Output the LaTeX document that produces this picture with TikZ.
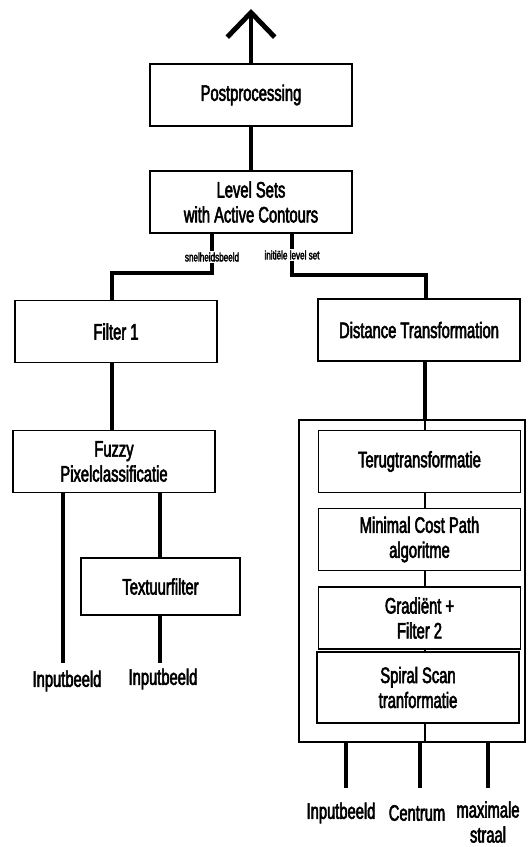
\documentclass[tikz,border=0pt]{standalone}
\usepackage{fontspec}
\setmainfont{Liberation Sans}[FakeStretch=0.66,FakeBold=2.5]
\usetikzlibrary{arrows.meta}

\begin{document}
\begin{tikzpicture}[x=0.02cm, y=-0.02cm,
    blok/.style={draw, line width=0.8pt, minimum width=4.04cm, minimum height=1.24cm,
      inner sep=0pt, align=center, font=\fontsize{12.7}{14.2}\selectfont},
    kader/.style={draw, line width=0.8pt, minimum width=4.52cm, minimum height=6.44cm, inner sep=0pt},
    dik/.style={line width=2.8pt},
    dun/.style={line width=0.8pt},
    invoer/.style={align=center, inner sep=1pt, font=\fontsize{12.7}{14.2}\selectfont},
    klein/.style={fill=white, inner sep=1pt, font=\fontsize{7}{8}\selectfont}]
  \useasboundingbox (0,0) rectangle (527,847);

  % Coordinates
  \coordinate (top) at (251,9);
  \coordinate (l1) at (212,273);
  \coordinate (l2) at (112,273);
  \coordinate (r1) at (292,275);
  \coordinate (r2) at (426,275);
  \coordinate (spine) at (425,420);
  \coordinate (s1) at (63,663);
  \coordinate (s2) at (160,663);
  \coordinate (b1) at (346,788);
  \coordinate (b2) at (420,788);
  \coordinate (b3) at (488,788);

  % Boxes
  \node[blok] (post) at (251,95) {Postprocessing};
  \node[blok] (level) at (251,202) {Level Sets\\with Active Contours};
  \node[blok] (filter1) at (116,331.5) {Filter 1};
  \node[blok] (dist) at (419,330) {Distance Transformation};
  \node[blok] (fuzzy) at (114,461.5) {Fuzzy\\Pixelclassificatie};
  \node[blok, minimum width=3.18cm, minimum height=1.14cm] (textuur) at (160.5,586.5) {Textuurfilter};
  \node[kader] (kader) at (412,581) {};
  \node[blok] (terug) at (419.5,461.5) {Terugtransformatie};
  \node[blok] (minimal) at (419.5,539.5) {Minimal Cost Path\\algoritme};
  \node[blok] (grad) at (419.5,618) {Gradiënt +\\Filter 2};
  \node[blok, minimum height=1.42cm] (spiral) at (418,687.5) {Spiral Scan\\tranformatie};

  % Inputs
  \node[invoer] (in1) at (67,681) {Inputbeeld};
  \node[invoer] (in2) at (163,679) {Inputbeeld};
  \node[invoer] (in3) at (341,813) {Inputbeeld};
  \node[invoer] (centrum) at (417,813) {Centrum};
  \node[invoer] (straal) at (488,822) {maximale\\straal};

  % Drawing
  \draw[dik, -{Straight Barb[length=14pt, width=27pt]}] (post.north) -- (top);
  \draw[dik] (level.north) -- (post.south);
  \draw[dik] (level.south -| l1) -- (l1) -- (l2) -- (filter1.north -| l2);
  \draw[dik] (level.south -| r1) -- (r1) -- (r2) -- (dist.north -| r2);
  \node[klein] (snel) at (212,257) {snelheidsbeeld};
  \node[klein] (init) at (292,255) {initiële level set};
  \draw[dik] (filter1.south -| l2) -- (fuzzy.north -| l2);
  \draw[dik] (fuzzy.south -| s1) -- (s1);
  \draw[dik] (fuzzy.south -| s2) -- (textuur.north -| s2);
  \draw[dik] (textuur.south -| s2) -- (s2);
  \draw[dik] (dist.south -| spine) -- (kader.north -| spine);
  \draw[dun] (kader.north -| spine) -- (terug.north -| spine);
  \draw[dun] (terug.south -| spine) -- (minimal.north -| spine);
  \draw[dun] (minimal.south -| spine) -- (grad.north -| spine);
  \draw[dun] (grad.south -| spine) -- (spiral.north -| spine);
  \draw[dun] (spiral.south -| spine) -- (kader.south -| spine);
  \draw[dik] (kader.south -| b1) -- (b1);
  \draw[dik] (kader.south -| b2) -- (b2);
  \draw[dik] (kader.south -| b3) -- (b3);
\end{tikzpicture}
\end{document}
